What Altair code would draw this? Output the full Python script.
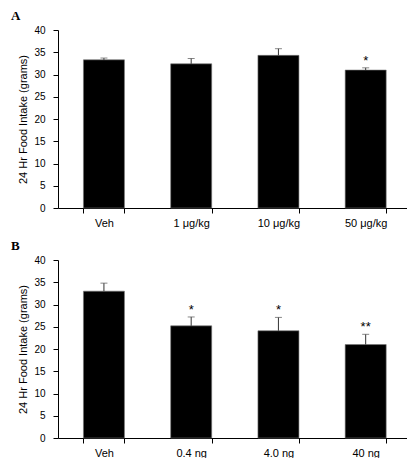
import altair as alt
import pandas as pd

# Panel A
cats_a = ["Veh", "1 μg/kg", "10 μg/kg", "50 μg/kg"]
means_a = [33.3, 32.4, 34.3, 31.0]
errs_a = [0.4, 1.2, 1.5, 0.5]
sig_a = ["", "", "", "*"]

# Panel B
cats_b = ["Veh", "0.4 ng", "4.0 ng", "40 ng"]
means_b = [33.0, 25.2, 24.1, 21.0]
errs_b = [1.8, 2.0, 3.0, 2.3]
sig_b = ["", "*", "*", "**"]

y_ticks = [0, 5, 10, 15, 20, 25, 30, 35, 40]
y_title = "24 Hr Food Intake (grams)"
FONT = "Liberation Sans"


def panel(cats, means, errs, sig, letter):
    df = pd.DataFrame({
        "cat": cats,
        "mean": means,
        "top": [m + e for m, e in zip(means, errs)],
        "sig": sig,
    })
    xaxis = alt.Axis(title=None, labelAngle=0, tickBand="extent",
                     tickSize=5, labelPadding=4, domainColor="black",
                     tickColor="black", labelFontSize=11,
                     labelColor="black", labelFont=FONT)
    yaxis = alt.Axis(values=y_ticks, title=y_title, grid=False, tickSize=5,
                     labelPadding=8, labelOverlap=False,
                     domainColor="black", tickColor="black",
                     labelFontSize=10, labelColor="black", labelFont=FONT,
                     titleFont=FONT, titleFontSize=11, titleFontWeight="normal",
                     titleColor="black", titlePadding=5)
    yscale = alt.Scale(domain=[0, 40])
    xscale = alt.Scale(paddingInner=0.53, paddingOuter=0.265, align=0.55)
    xs = alt.X("cat:N", sort=cats, scale=xscale, axis=xaxis)
    bars = alt.Chart(df).mark_bar(color="black", stroke="#777",
                                  strokeWidth=0.6).encode(
        x=xs, y=alt.Y("mean:Q", scale=yscale, axis=yaxis))
    rule = alt.Chart(df).mark_rule(color="#333", strokeWidth=1).encode(
        x=xs, y=alt.Y("mean:Q", scale=yscale, axis=yaxis), y2="top:Q")
    cap = alt.Chart(df).mark_tick(color="#555", size=7, thickness=1,
                                  orient="horizontal").encode(
        x=xs, y=alt.Y("top:Q", scale=yscale, axis=yaxis))
    star = alt.Chart(df).mark_text(fontSize=13, baseline="bottom", dy=0,
                                   font=FONT, color="black").encode(
        x=xs, y=alt.Y("top:Q", scale=yscale, axis=yaxis), text="sig:N")
    return alt.layer(bars, rule, cap, star).properties(
        width=349, height=178,
        title=alt.TitleParams(letter, anchor="start", frame="bounds",
                              font="Liberation Serif", fontWeight="bold",
                              fontSize=13, offset=2, dx=-7, color="black"),
    )


chart = alt.vconcat(
    panel(cats_a, means_a, errs_a, sig_a, "A"),
    panel(cats_b, means_b, errs_b, sig_b, "B"),
    spacing=12,
).properties(
    padding={"left": 2, "top": 2, "right": 0, "bottom": 0}
).configure_view(stroke=None)

chart.save("out.html", embed_options={"renderer": "svg", "actions": False})
